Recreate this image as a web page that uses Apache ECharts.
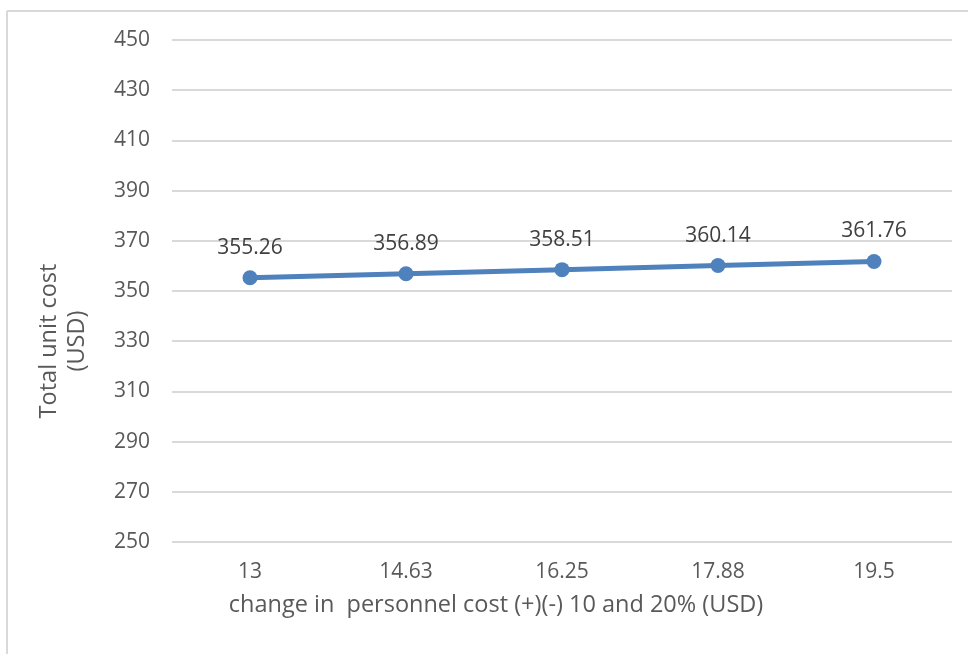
<!DOCTYPE html>
<html>
<head>
<meta charset="utf-8">
<script src="https://cdn.jsdelivr.net/npm/echarts@6/dist/echarts.min.js"></script>
<style>
  html, body { margin: 0; padding: 0; background: #fff; }
  #chart { width: 968px; height: 654px; }
</style>
</head>
<body>
<div id="chart"></div>
<script>
// Personnel cost sensitivity: total unit cost per personnel cost level
const categories = ['13', '14.63', '16.25', '17.88', '19.5'];
const unitCost = [355.26, 356.89, 358.51, 360.14, 361.76];
const yMin = 250;
const yMax = 450;
const yStep = 20;
const xTitle = 'change in  personnel cost (+)(-) 10 and 20% (USD)';
const yTitle = 'Total unit cost\n(USD)';

const textColor = '#595959';
const fontFamily = 'Open Sans, Lato, sans-serif';

const chart = echarts.init(document.getElementById('chart'));
chart.setOption({
  animation: false,
  backgroundColor: '#ffffff',
  grid: { left: 172, right: 16, top: 40, bottom: 112 },
  graphic: [
    // chart frame (top and left edges)
    { type: 'line', shape: { x1: 7, y1: 11, x2: 968, y2: 11 }, style: { stroke: '#d9d9d9', lineWidth: 2 } },
    { type: 'line', shape: { x1: 7, y1: 11, x2: 7, y2: 654 }, style: { stroke: '#d9d9d9', lineWidth: 2 } },
    // axis titles
    {
      type: 'text', x: 496, y: 605,
      style: { text: xTitle, fill: textColor, font: '23.5px ' + fontFamily, align: 'center', verticalAlign: 'middle' }
    },
    {
      type: 'text', x: 63, y: 341, rotation: Math.PI / 2,
      style: { text: yTitle, fill: textColor, font: '23.5px ' + fontFamily, lineHeight: 28, align: 'center', verticalAlign: 'middle' }
    }
  ],
  xAxis: {
    type: 'category',
    data: categories,
    boundaryGap: true,
    axisLine: { show: false },
    axisTick: { show: false },
    axisLabel: { color: textColor, fontSize: 21, fontFamily, margin: 20 }
  },
  yAxis: {
    type: 'value',
    min: yMin,
    max: yMax,
    interval: yStep,
    axisLine: { show: false },
    axisTick: { show: false },
    axisLabel: { color: textColor, fontSize: 21, fontFamily, margin: 22 },
    splitLine: { lineStyle: { color: '#d9d9d9', width: 2 } }
  },
  series: [{
    type: 'line',
    data: unitCost,
    symbol: 'circle',
    symbolSize: 15,
    lineStyle: { color: '#4f81bd', width: 5 },
    itemStyle: { color: '#4f81bd' },
    label: {
      show: true,
      position: 'top',
      distance: 12,
      color: '#404040',
      fontSize: 21,
      fontFamily,
      formatter: p => p.value.toFixed(2)
    }
  }]
});
</script>
</body>
</html>
